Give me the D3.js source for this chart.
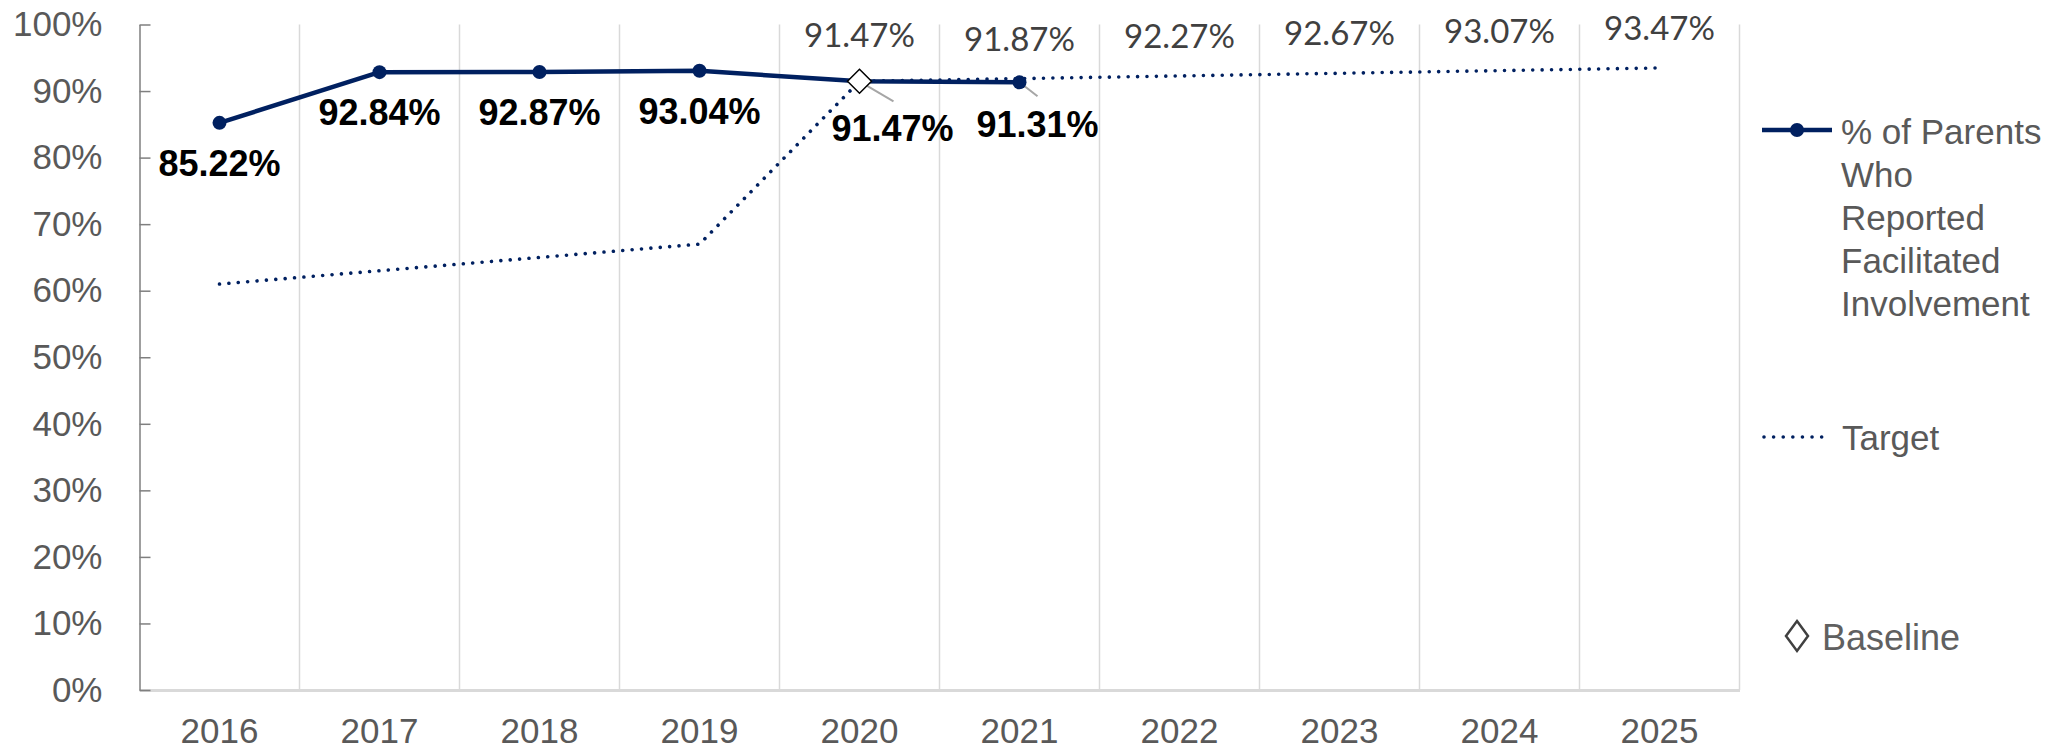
<!DOCTYPE html>
<html>
<head>
<meta charset="utf-8">
<script src="https://cdn.jsdelivr.net/npm/d3@7"></script>
<style>
  html, body { margin: 0; padding: 0; background: #ffffff; }
  svg { display: block; }
</style>
</head>
<body>
<svg id="chart" width="2064" height="753"></svg>
<script>
// ---- data ----
const years = ["2016", "2017", "2018", "2019", "2020", "2021", "2022", "2023", "2024", "2025"];
const actualYears = ["2016", "2017", "2018", "2019", "2020", "2021"];
const actualValues = [85.22, 92.84, 92.87, 93.04, 91.47, 91.31];
const targetValues = [61, 63, 65, 67, 91.47, 91.87, 92.27, 92.67, 93.07, 93.47];
const targetLabelYears = ["2020", "2021", "2022", "2023", "2024", "2025"];
const baselineYear = "2020";
const baselineValue = 91.47;
const yTickValues = [0, 10, 20, 30, 40, 50, 60, 70, 80, 90, 100];
const legendActual = ["% of Parents", "Who", "Reported", "Facilitated", "Involvement"];
const legendTarget = "Target";
const legendBaseline = "Baseline";

// ---- layout (not data) ----
const actualLabelOffsets = [[0, 40.5], [0, 40.5], [0, 40.5], [0, 40.5], [33, 47], [18, 42]];

(function draw() {
const svg = d3.select("#chart");
const pLeft = 139.5, pRight = 1739.5, pTop = 24.5, pBottom = 690;
const navy = "#002060";

const x = d3.scaleBand().domain(years).range([pLeft, pRight]).paddingInner(0).paddingOuter(0);
const y = d3.scaleLinear().domain([0, 100]).range([pBottom, pTop]);
const cx = d => x(d) + x.bandwidth() / 2;
const fmt = v => v.toFixed(2) + "%";

// vertical gridlines at category boundaries
svg.append("g").selectAll("line")
  .data(years)
  .join("line")
  .attr("x1", d => x(d) + x.bandwidth()).attr("x2", d => x(d) + x.bandwidth())
  .attr("y1", pTop).attr("y2", pBottom)
  .attr("stroke", "#d9d9d9").attr("stroke-width", 1.5);

// x axis
const xAxis = svg.append("g")
  .attr("transform", `translate(0,${pBottom})`)
  .call(d3.axisBottom(x).tickSize(0).tickPadding(28));
xAxis.select(".domain").attr("stroke", "#d9d9d9").attr("stroke-width", 3);
xAxis.selectAll("text")
  .attr("font-family", "Liberation Sans, Arial, sans-serif")
  .attr("font-size", 35).attr("fill", "#595959");

// y axis (inward ticks)
const yAxis = svg.append("g")
  .attr("transform", `translate(${pLeft},0)`)
  .call(d3.axisLeft(y).tickValues(yTickValues).tickFormat(d => d + "%").tickSize(-11).tickSizeOuter(0).tickPadding(37));
yAxis.select(".domain").attr("stroke", "#7f7f7f").attr("stroke-width", 1.5);
yAxis.selectAll(".tick line").attr("stroke", "#7f7f7f").attr("stroke-width", 1.5);
yAxis.selectAll("text")
  .attr("font-family", "Liberation Sans, Arial, sans-serif")
  .attr("font-size", 35).attr("fill", "#595959");

// target dotted line
const targetLine = d3.line().x((d, i) => cx(years[i])).y(d => y(d));
svg.append("path")
  .datum(targetValues)
  .attr("d", targetLine)
  .attr("fill", "none")
  .attr("stroke", navy).attr("stroke-width", 3.6)
  .attr("stroke-linecap", "round")
  .attr("stroke-dasharray", "0.01 9.4");

// actual solid line
const actualLine = d3.line().x((d, i) => cx(actualYears[i])).y(d => y(d));
svg.append("path")
  .datum(actualValues)
  .attr("d", actualLine)
  .attr("fill", "none")
  .attr("stroke", navy).attr("stroke-width", 4.5)
  .attr("stroke-linejoin", "round");

// leader lines for 2020 & 2021 labels
const leaders = [[4, 34, 20], [5, 18, 14]];
svg.append("g").selectAll("line")
  .data(leaders)
  .join("line")
  .attr("x1", d => cx(actualYears[d[0]]))
  .attr("y1", d => y(actualValues[d[0]]))
  .attr("x2", d => cx(actualYears[d[0]]) + d[1])
  .attr("y2", d => y(actualValues[d[0]]) + d[2])
  .attr("stroke", "#a6a6a6").attr("stroke-width", 2);

// markers
svg.append("g").selectAll("circle")
  .data(actualValues.map((v, i) => ({ yr: actualYears[i], v })).filter(d => d.yr !== baselineYear))
  .join("circle")
  .attr("cx", d => cx(d.yr)).attr("cy", d => y(d.v))
  .attr("r", 7).attr("fill", navy);

// baseline diamond
const diamond = (sx, sy) => `M0,${-sy}L${sx},0L0,${sy}L${-sx},0Z`;
svg.append("path")
  .attr("d", diamond(12, 12))
  .attr("transform", `translate(${cx(baselineYear)},${y(baselineValue)})`)
  .attr("fill", "#ffffff").attr("stroke", "#000000").attr("stroke-width", 1.5);

// actual labels (bold)
svg.append("g").selectAll("text")
  .data(actualValues.map((v, i) => ({ yr: actualYears[i], v, o: actualLabelOffsets[i] })))
  .join("text")
  .attr("x", d => cx(d.yr) + d.o[0])
  .attr("y", d => y(d.v) + d.o[1])
  .attr("text-anchor", "middle")
  .attr("dominant-baseline", "central")
  .attr("font-family", "Liberation Sans, Arial, sans-serif")
  .attr("font-weight", "bold")
  .attr("font-size", 36)
  .attr("fill", "#000000")
  .text(d => fmt(d.v));

// target labels
svg.append("g").selectAll("text")
  .data(targetLabelYears.map(yr => ({ yr, v: targetValues[years.indexOf(yr)] })))
  .join("text")
  .attr("x", d => cx(d.yr))
  .attr("y", d => y(d.v) - (d.yr === "2020" ? 47 : 41))
  .attr("text-anchor", "middle")
  .attr("dominant-baseline", "central")
  .attr("font-family", "Lato, 'Open Sans', sans-serif")
  .attr("font-size", 33)
  .attr("fill", "#404040")
  .text(d => fmt(d.v));

// legend
const lg = svg.append("g");
lg.append("line").attr("x1", 1762).attr("x2", 1832).attr("y1", 130).attr("y2", 130)
  .attr("stroke", navy).attr("stroke-width", 4.5);
lg.append("circle").attr("cx", 1797).attr("cy", 130).attr("r", 7).attr("fill", navy);
lg.append("g").selectAll("text")
  .data(legendActual)
  .join("text")
  .attr("x", 1841).attr("y", (d, i) => 131 + i * 43)
  .attr("dominant-baseline", "central")
  .attr("font-family", "Liberation Sans, Arial, sans-serif")
  .attr("font-size", 35).attr("fill", "#595959")
  .text(d => d);

lg.append("line").attr("x1", 1764).attr("x2", 1823).attr("y1", 437).attr("y2", 437)
  .attr("stroke", navy).attr("stroke-width", 3.6)
  .attr("stroke-linecap", "round").attr("stroke-dasharray", "0.01 9.6");
lg.append("text").attr("x", 1842).attr("y", 437)
  .attr("dominant-baseline", "central")
  .attr("font-family", "Liberation Sans, Arial, sans-serif")
  .attr("font-size", 35).attr("fill", "#595959")
  .text(legendTarget);

lg.append("path").attr("d", diamond(11, 15))
  .attr("transform", "translate(1797,636)")
  .attr("fill", "#ffffff").attr("stroke", "#404040").attr("stroke-width", 2.5);
lg.append("text").attr("x", 1822).attr("y", 637)
  .attr("dominant-baseline", "central")
  .attr("font-family", "Liberation Sans, Arial, sans-serif")
  .attr("font-size", 36).attr("fill", "#606060")
  .text(legendBaseline);
})();
</script>
</body>
</html>
